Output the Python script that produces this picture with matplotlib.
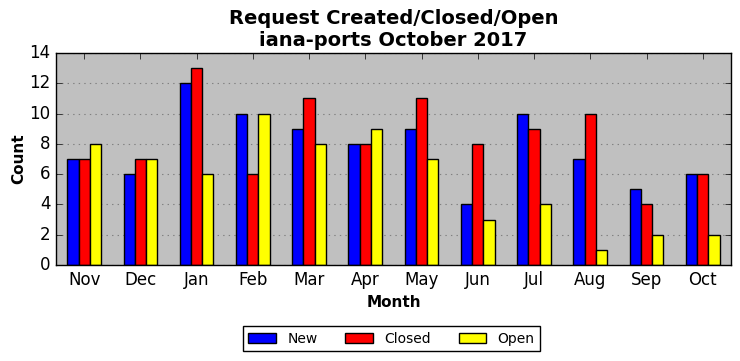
import numpy as np
import matplotlib
matplotlib.use('Agg')
import matplotlib.pyplot as plt

months = ['Nov', 'Dec', 'Jan', 'Feb', 'Mar', 'Apr', 'May', 'Jun', 'Jul', 'Aug', 'Sep', 'Oct']
new_counts = [7, 6, 12, 10, 9, 8, 9, 4, 10, 7, 5, 6]
closed_counts = [7, 7, 13, 6, 11, 8, 11, 8, 9, 10, 4, 6]
open_counts = [8, 7, 6, 10, 8, 9, 7, 3, 4, 1, 2, 2]

plt.style.use('classic')
fig = plt.figure(figsize=(7.4, 3.61), dpi=100)
ax = fig.add_axes([0.0757, 0.266, 0.912, 0.587])

x = np.arange(len(months))
w = 0.2
ax.bar(x - w, new_counts, w, color='blue', edgecolor='black', linewidth=1, label='New', align='center')
ax.bar(x, closed_counts, w, color='red', edgecolor='black', linewidth=1, label='Closed', align='center')
ax.bar(x + w, open_counts, w, color='yellow', edgecolor='black', linewidth=1, label='Open', align='center')

ax.set_facecolor('#c0c0c0')
ax.set_xlim(-0.5, len(months) - 0.5)
ax.set_ylim(0, 14)
ax.set_xticks(x)
ax.set_xticklabels(months, fontsize=12)
ax.tick_params(axis='y', labelsize=12)
ax.yaxis.grid(True, linestyle=':', color='gray', linewidth=0.8)
ax.set_axisbelow(True)

ax.set_title('Request Created/Closed/Open\niana-ports October 2017', fontsize=14, fontweight='bold')
ax.set_xlabel('Month', fontsize=11, fontweight='bold')
ax.set_ylabel('Count', fontsize=11, fontweight='bold', labelpad=2)

ax.legend(loc='upper center', bbox_to_anchor=(0.497, -0.255), ncol=3, fontsize=10,
          fancybox=False, frameon=True, handlelength=2.0, columnspacing=2.0)

fig.savefig('out.png', dpi=100, facecolor='white')
